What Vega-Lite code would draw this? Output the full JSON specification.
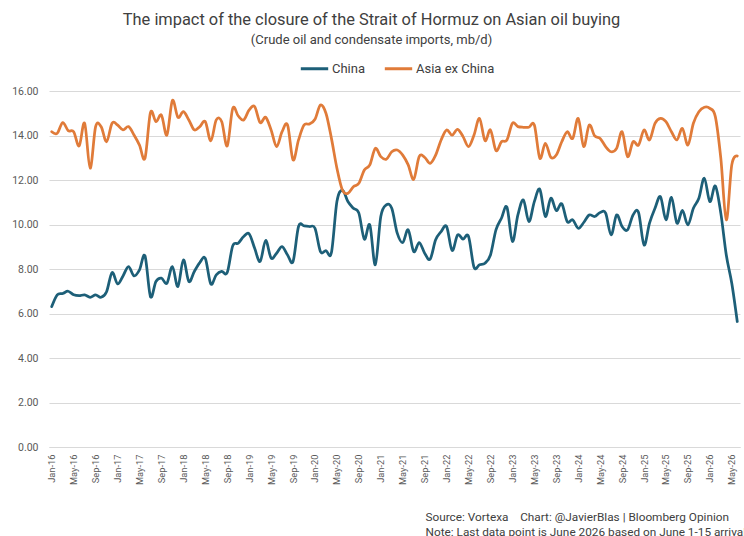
{
  "$schema": "https://vega.github.io/schema/vega-lite/v6.json",
  "width": 691,
  "height": 356,
  "autosize": {"type": "none"},
  "padding": {"left": 49, "top": 91, "right": 4, "bottom": 89},
  "background": "white",
  "title": {
    "text": "The impact of the closure of the Strait of Hormuz on Asian oil buying",
    "subtitle": "(Crude oil and condensate imports, mb/d)",
    "anchor": "middle",
    "frame": "group",
    "dx": -23,
    "font": "Roboto",
    "fontSize": 16.4,
    "fontWeight": "normal",
    "color": "#404040",
    "subtitleFont": "Roboto",
    "subtitleFontSize": 13,
    "subtitleColor": "#404040",
    "subtitlePadding": 6,
    "offset": 6
  },
  "config": {
    "view": {"stroke": null},
    "font": "Roboto"
  },
  "data": {
    "values": [
      {"m": "Jan-16", "China": 6.31, "Asia ex China": 14.17},
      {"m": "Feb-16", "China": 6.84, "Asia ex China": 14.10},
      {"m": "Mar-16", "China": 6.90, "Asia ex China": 14.58},
      {"m": "Apr-16", "China": 7.00, "Asia ex China": 14.22},
      {"m": "May-16", "China": 6.84, "Asia ex China": 14.17},
      {"m": "Jun-16", "China": 6.80, "Asia ex China": 13.53},
      {"m": "Jul-16", "China": 6.84, "Asia ex China": 14.55},
      {"m": "Aug-16", "China": 6.73, "Asia ex China": 12.53},
      {"m": "Sep-16", "China": 6.84, "Asia ex China": 14.40},
      {"m": "Oct-16", "China": 6.73, "Asia ex China": 14.40},
      {"m": "Nov-16", "China": 6.98, "Asia ex China": 13.72},
      {"m": "Dec-16", "China": 7.84, "Asia ex China": 14.55},
      {"m": "Jan-17", "China": 7.33, "Asia ex China": 14.47},
      {"m": "Feb-17", "China": 7.69, "Asia ex China": 14.25},
      {"m": "Mar-17", "China": 8.11, "Asia ex China": 14.40},
      {"m": "Apr-17", "China": 7.69, "Asia ex China": 14.02},
      {"m": "May-17", "China": 7.96, "Asia ex China": 13.57},
      {"m": "Jun-17", "China": 8.59, "Asia ex China": 12.98},
      {"m": "Jul-17", "China": 6.76, "Asia ex China": 15.03},
      {"m": "Aug-17", "China": 7.44, "Asia ex China": 14.62},
      {"m": "Sep-17", "China": 7.59, "Asia ex China": 14.92},
      {"m": "Oct-17", "China": 7.36, "Asia ex China": 14.02},
      {"m": "Nov-17", "China": 8.11, "Asia ex China": 15.57},
      {"m": "Dec-17", "China": 7.21, "Asia ex China": 14.82},
      {"m": "Jan-18", "China": 8.41, "Asia ex China": 15.07},
      {"m": "Feb-18", "China": 7.44, "Asia ex China": 14.70},
      {"m": "Mar-18", "China": 7.89, "Asia ex China": 14.25},
      {"m": "Apr-18", "China": 8.29, "Asia ex China": 14.40},
      {"m": "May-18", "China": 8.48, "Asia ex China": 14.62},
      {"m": "Jun-18", "China": 7.33, "Asia ex China": 13.76},
      {"m": "Jul-18", "China": 7.74, "Asia ex China": 14.70},
      {"m": "Aug-18", "China": 7.89, "Asia ex China": 14.62},
      {"m": "Sep-18", "China": 7.84, "Asia ex China": 13.53},
      {"m": "Oct-18", "China": 9.04, "Asia ex China": 15.22},
      {"m": "Nov-18", "China": 9.16, "Asia ex China": 14.88},
      {"m": "Dec-18", "China": 9.46, "Asia ex China": 14.70},
      {"m": "Jan-19", "China": 9.58, "Asia ex China": 15.15},
      {"m": "Feb-19", "China": 8.93, "Asia ex China": 15.30},
      {"m": "Mar-19", "China": 8.34, "Asia ex China": 14.58},
      {"m": "Apr-19", "China": 9.28, "Asia ex China": 14.82},
      {"m": "May-19", "China": 8.49, "Asia ex China": 14.25},
      {"m": "Jun-19", "China": 8.71, "Asia ex China": 13.50},
      {"m": "Jul-19", "China": 9.01, "Asia ex China": 14.17},
      {"m": "Aug-19", "China": 8.63, "Asia ex China": 14.47},
      {"m": "Sep-19", "China": 8.34, "Asia ex China": 12.90},
      {"m": "Oct-19", "China": 9.91, "Asia ex China": 13.80},
      {"m": "Nov-19", "China": 9.94, "Asia ex China": 14.47},
      {"m": "Dec-19", "China": 9.91, "Asia ex China": 14.52},
      {"m": "Jan-20", "China": 9.83, "Asia ex China": 14.73},
      {"m": "Feb-20", "China": 8.78, "Asia ex China": 15.37},
      {"m": "Mar-20", "China": 8.83, "Asia ex China": 15.00},
      {"m": "Apr-20", "China": 8.74, "Asia ex China": 13.87},
      {"m": "May-20", "China": 11.03, "Asia ex China": 12.53},
      {"m": "Jun-20", "China": 11.55, "Asia ex China": 11.55},
      {"m": "Jul-20", "China": 11.03, "Asia ex China": 11.40},
      {"m": "Aug-20", "China": 10.73, "Asia ex China": 11.70},
      {"m": "Sep-20", "China": 10.51, "Asia ex China": 11.85},
      {"m": "Oct-20", "China": 9.34, "Asia ex China": 12.45},
      {"m": "Nov-20", "China": 9.98, "Asia ex China": 12.68},
      {"m": "Dec-20", "China": 8.19, "Asia ex China": 13.42},
      {"m": "Jan-21", "China": 10.36, "Asia ex China": 13.05},
      {"m": "Feb-21", "China": 10.88, "Asia ex China": 12.93},
      {"m": "Mar-21", "China": 10.73, "Asia ex China": 13.27},
      {"m": "Apr-21", "China": 9.61, "Asia ex China": 13.35},
      {"m": "May-21", "China": 9.19, "Asia ex China": 13.12},
      {"m": "Jun-21", "China": 9.76, "Asia ex China": 12.68},
      {"m": "Jul-21", "China": 8.78, "Asia ex China": 12.03},
      {"m": "Aug-21", "China": 9.19, "Asia ex China": 13.05},
      {"m": "Sep-21", "China": 8.71, "Asia ex China": 13.02},
      {"m": "Oct-21", "China": 8.44, "Asia ex China": 12.75},
      {"m": "Nov-21", "China": 9.31, "Asia ex China": 13.12},
      {"m": "Dec-21", "China": 9.68, "Asia ex China": 13.80},
      {"m": "Jan-22", "China": 9.91, "Asia ex China": 14.25},
      {"m": "Feb-22", "China": 8.83, "Asia ex China": 14.02},
      {"m": "Mar-22", "China": 9.53, "Asia ex China": 14.28},
      {"m": "Apr-22", "China": 9.34, "Asia ex China": 13.95},
      {"m": "May-22", "China": 9.46, "Asia ex China": 13.50},
      {"m": "Jun-22", "China": 8.08, "Asia ex China": 14.02},
      {"m": "Jul-22", "China": 8.19, "Asia ex China": 14.77},
      {"m": "Aug-22", "China": 8.26, "Asia ex China": 13.77},
      {"m": "Sep-22", "China": 8.63, "Asia ex China": 14.25},
      {"m": "Oct-22", "China": 9.76, "Asia ex China": 13.32},
      {"m": "Nov-22", "China": 10.28, "Asia ex China": 13.72},
      {"m": "Dec-22", "China": 10.78, "Asia ex China": 13.80},
      {"m": "Jan-23", "China": 9.24, "Asia ex China": 14.55},
      {"m": "Feb-23", "China": 10.43, "Asia ex China": 14.40},
      {"m": "Mar-23", "China": 11.10, "Asia ex China": 14.37},
      {"m": "Apr-23", "China": 10.13, "Asia ex China": 14.37},
      {"m": "May-23", "China": 11.03, "Asia ex China": 14.47},
      {"m": "Jun-23", "China": 11.58, "Asia ex China": 12.98},
      {"m": "Jul-23", "China": 10.36, "Asia ex China": 13.65},
      {"m": "Aug-23", "China": 11.18, "Asia ex China": 13.02},
      {"m": "Sep-23", "China": 10.63, "Asia ex China": 13.12},
      {"m": "Oct-23", "China": 10.93, "Asia ex China": 13.72},
      {"m": "Nov-23", "China": 10.13, "Asia ex China": 14.17},
      {"m": "Dec-23", "China": 10.21, "Asia ex China": 13.87},
      {"m": "Jan-24", "China": 9.83, "Asia ex China": 14.77},
      {"m": "Feb-24", "China": 10.09, "Asia ex China": 13.50},
      {"m": "Mar-24", "China": 10.43, "Asia ex China": 14.47},
      {"m": "Apr-24", "China": 10.36, "Asia ex China": 13.98},
      {"m": "May-24", "China": 10.54, "Asia ex China": 13.87},
      {"m": "Jun-24", "China": 10.51, "Asia ex China": 13.50},
      {"m": "Jul-24", "China": 9.53, "Asia ex China": 13.27},
      {"m": "Aug-24", "China": 10.43, "Asia ex China": 13.42},
      {"m": "Sep-24", "China": 9.91, "Asia ex China": 14.17},
      {"m": "Oct-24", "China": 9.76, "Asia ex China": 13.05},
      {"m": "Nov-24", "China": 10.43, "Asia ex China": 13.72},
      {"m": "Dec-24", "China": 10.54, "Asia ex China": 13.57},
      {"m": "Jan-25", "China": 9.08, "Asia ex China": 14.25},
      {"m": "Feb-25", "China": 10.06, "Asia ex China": 13.80},
      {"m": "Mar-25", "China": 10.73, "Asia ex China": 14.55},
      {"m": "Apr-25", "China": 11.25, "Asia ex China": 14.77},
      {"m": "May-25", "China": 10.21, "Asia ex China": 14.62},
      {"m": "Jun-25", "China": 11.22, "Asia ex China": 14.17},
      {"m": "Jul-25", "China": 10.06, "Asia ex China": 13.80},
      {"m": "Aug-25", "China": 10.63, "Asia ex China": 14.32},
      {"m": "Sep-25", "China": 9.98, "Asia ex China": 13.57},
      {"m": "Oct-25", "China": 10.73, "Asia ex China": 14.55},
      {"m": "Nov-25", "China": 11.18, "Asia ex China": 15.07},
      {"m": "Dec-25", "China": 12.08, "Asia ex China": 15.27},
      {"m": "Jan-26", "China": 11.03, "Asia ex China": 15.22},
      {"m": "Feb-26", "China": 11.73, "Asia ex China": 14.85},
      {"m": "Mar-26", "China": 10.51, "Asia ex China": 12.98},
      {"m": "Apr-26", "China": 8.63, "Asia ex China": 10.21},
      {"m": "May-26", "China": 7.36, "Asia ex China": 12.68},
      {"m": "Jun-26", "China": 5.64, "Asia ex China": 13.08}
    ]
  },
  "transform": [
    {"fold": ["China", "Asia ex China"], "as": ["series", "value"]}
  ],
  "mark": {"type": "line", "interpolate": "cardinal", "strokeWidth": 2.75, "strokeCap": "round"},
  "encoding": {
    "x": {
      "field": "m",
      "type": "ordinal",
      "sort": null,
      "scale": {"type": "point", "padding": 0.5},
      "axis": {
        "values": ["Jan-16", "May-16", "Sep-16", "Jan-17", "May-17", "Sep-17", "Jan-18", "May-18", "Sep-18", "Jan-19", "May-19", "Sep-19", "Jan-20", "May-20", "Sep-20", "Jan-21", "May-21", "Sep-21", "Jan-22", "May-22", "Sep-22", "Jan-23", "May-23", "Sep-23", "Jan-24", "May-24", "Sep-24", "Jan-25", "May-25", "Sep-25", "Jan-26", "May-26"],
        "labelAngle": -90,
        "labelFont": "Roboto",
        "labelFontSize": 9.3,
        "labelColor": "#595959",
        "labelPadding": 7,
        "ticks": false,
        "domain": true,
        "domainColor": "#d9d9d9",
        "domainWidth": 1,
        "grid": false,
        "title": ["Source: Vortexa\u00a0\u00a0\u00a0\u00a0Chart: @JavierBlas | Bloomberg Opinion", "Note: Last data point is June 2026 based on June 1-15 arrivals"],
        "titleFont": "Roboto",
        "titleFontSize": 11.8,
        "titleFontWeight": "normal",
        "titleColor": "#404040",
        "titleAlign": "left",
        "titleAnchor": "start",
        "titleBaseline": "alphabetic",
        "titleLineHeight": 15,
        "titleX": 376,
        "titleY": 73
      }
    },
    "y": {
      "field": "value",
      "type": "quantitative",
      "scale": {"domain": [0, 16], "nice": false},
      "axis": {
        "values": [0, 2, 4, 6, 8, 10, 12, 14, 16],
        "format": ".2f",
        "title": null,
        "domain": false,
        "ticks": false,
        "grid": true,
        "gridColor": "#d9d9d9",
        "gridWidth": 1,
        "labelFont": "Roboto",
        "labelFontSize": 10.5,
        "labelColor": "#595959",
        "labelPadding": 11
      }
    },
    "color": {
      "field": "series",
      "type": "nominal",
      "scale": {"domain": ["China", "Asia ex China"], "range": ["#1d5f78", "#e07b39"]},
      "legend": {
        "title": null,
        "orient": "none",
        "direction": "horizontal",
        "legendX": 250,
        "legendY": -38,
        "symbolType": "stroke",
        "symbolSize": 750,
        "symbolStrokeWidth": 3,
        "labelFont": "Roboto",
        "labelFontSize": 13,
        "labelColor": "#404040",
        "labelOffset": 2,
        "columnPadding": 12
      }
    }
  }
}
